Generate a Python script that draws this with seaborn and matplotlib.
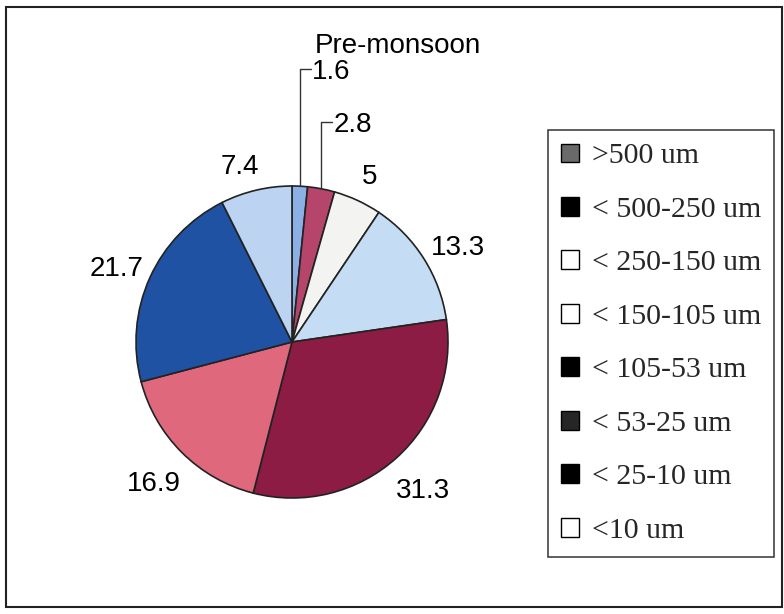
import numpy as np
import seaborn as sns
import matplotlib.pyplot as plt
from matplotlib.patches import Patch, Rectangle

# Data
sizes = ['>500 um', '< 500-250 um', '< 250-150 um', '< 150-105 um',
         '< 105-53 um', '< 53-25 um', '< 25-10 um', '<10 um']
values = [1.6, 2.8, 5, 13.3, 31.3, 16.9, 21.7, 7.4]
value_labels = ['1.6', '2.8', '5', '13.3', '31.3', '16.9', '21.7', '7.4']
title = 'Pre-monsoon'

# slice colours and the (scanned, greyscale) legend keys
slice_colors = ['#8cb0e6', '#b5456a', '#f3f3f1', '#c4dcf4',
                '#8c1c44', '#e0687c', '#1f52a3', '#bcd4f2']
key_colors = ['#6a6a6a', '#000000', '#ffffff', '#ffffff',
              '#000000', '#262626', '#000000', '#ffffff']

# label placement (in radii); None means a leader line is used
label_dist = [None, None, 1.19, 1.23, 1.26, 1.26, 1.225, 1.19]
label_shift = [0, 0, 0, -2, 0, 0, 1, 3]   # small angular nudges (deg)
leader_height = [1.75, 1.41]

sns.set_theme(style='white')
plt.rcParams['font.family'] = ['Liberation Sans', 'DejaVu Sans']

W, H = 784, 614
cx, cy, R = 292, 614 - 342, 156
FS = 20
base = 10 / R   # half the cap height, to centre digits on a point

fig = plt.figure(figsize=(W / 100, H / 100), dpi=100)
ax = fig.add_axes([0, 0, 1, 1])

wedges, _ = ax.pie(values, colors=slice_colors, startangle=90, counterclock=False,
                   wedgeprops=dict(edgecolor='#222222', linewidth=1.2))
ax.set_xlim(-cx / R, (W - cx) / R)
ax.set_ylim(-cy / R, (H - cy) / R)
ax.set_aspect('auto')
ax.axis('off')

# value labels
for i, w in enumerate(wedges):
    theta = np.deg2rad((w.theta1 + w.theta2) / 2 + label_shift[i])
    if label_dist[i] is not None:
        d = label_dist[i]
        ax.text(d * np.cos(theta), d * np.sin(theta) - base, value_labels[i],
                ha='center', va='baseline', fontsize=FS, color='black')
    else:
        x0, y0 = np.cos(theta), np.sin(theta)
        ytop = leader_height[i]
        ax.plot([x0, x0, x0 + 0.07], [y0, ytop, ytop], color='#333333', lw=1)
        ax.text(x0 + 0.08, ytop - base, value_labels[i], ha='left', va='baseline',
                fontsize=FS, color='black')

ax.text((315 - cx) / R, (H - 53 - cy) / R, title, ha='left', va='baseline',
        fontsize=FS, color='black')

# legend
handles = [Patch(facecolor=c, edgecolor='black', linewidth=1) for c in key_colors]
leg = fig.legend(handles, sizes, loc='upper left',
                 bbox_to_anchor=(548 / W, 1 - 130 / H), borderaxespad=0,
                 frameon=True, fancybox=False, shadow=False,
                 prop={'family': 'Liberation Serif', 'size': 21.5},
                 handlelength=0.59, handleheight=0.59, handletextpad=0.42,
                 labelspacing=0.92, borderpad=0.45)
leg.get_frame().set_edgecolor('black')
leg.get_frame().set_linewidth(1.1)

# outer frame
fig.patches.append(Rectangle((6 / W, 7 / H), 776 / W, 600 / H, transform=fig.transFigure,
                             fill=False, edgecolor='#222222', linewidth=1.5))

fig.savefig('out.png', dpi=100, facecolor='white')
